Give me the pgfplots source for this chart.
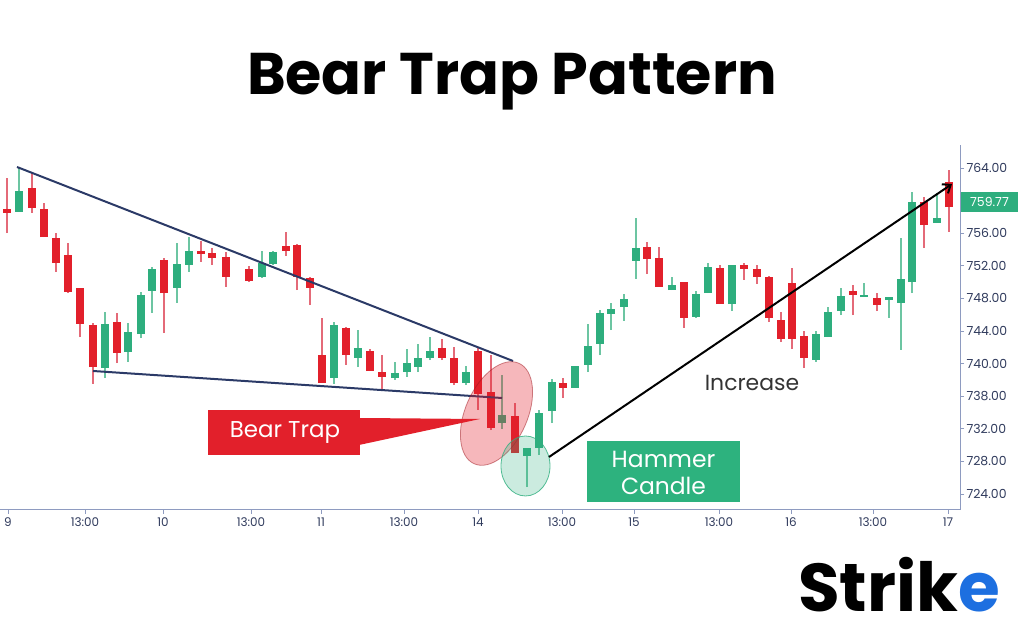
\documentclass[border=0pt]{standalone}
\usepackage{fontspec}
\setmainfont{Poppins}
\usepackage{pgfplots}
\usepackage{pgfplotstable}
\pgfplotsset{compat=1.18}
\usetikzlibrary{arrows.meta}
\definecolor{cred}{HTML}{E2202B}
\definecolor{cgreen}{HTML}{2EAE7E}
\definecolor{credw}{HTML}{E46A78}
\definecolor{cgreenw}{HTML}{6CC5A2}
\definecolor{navy}{HTML}{2B3A67}
\definecolor{axcol}{HTML}{8E9BC0}
\definecolor{tickcol}{HTML}{2F3A5C}
\definecolor{boxgreen}{HTML}{2DB27E}
\definecolor{logoblue}{HTML}{1D6FE0}

\pgfplotstableread{
x o h l c
7 758.97 762.77 756.02 758.48
32 761.55 763.39 758.48 759.09
44 758.97 759.71 755.53 755.53
56 755.41 756.02 751.24 752.34
68 753.33 754.80 748.66 748.79
80 749.28 749.28 743.26 744.86
93 744.74 744.98 737.50 739.58
117 745.10 746.21 740.07 741.30
164 752.71 752.96 743.75 748.66
201 753.82 755.04 752.47 753.45
212 753.57 754.18 752.10 752.96
226 753.08 753.69 749.40 750.63
249 751.61 751.98 750.01 750.13
286 754.43 756.15 753.20 753.82
297 754.55 754.67 749.03 750.63
310 750.50 750.63 747.19 749.28
322 741.05 745.60 737.62 737.62
346 744.37 744.49 739.83 741.05
370 741.55 741.79 739.09 739.09
382 738.97 741.05 736.88 738.36
442 741.91 743.02 740.44 740.69
454 740.69 742.04 737.37 737.62
478 741.55 741.91 734.31 736.27
491 736.52 741.05 731.85 732.10
515 733.57 735.17 729.03 729.03
563 737.62 738.23 735.78 737.01
647 754.31 754.92 750.99 752.83
659 752.96 754.31 749.40 749.40
684 750.01 750.01 744.37 745.60
720 751.73 752.10 747.31 747.31
744 752.10 752.34 750.26 751.61
757 751.61 752.10 749.77 750.63
769 750.63 750.75 745.10 745.60
781 745.35 746.33 742.65 743.02
792 749.89 751.73 741.79 743.02
804 743.39 744.00 739.46 740.69
853 748.91 749.64 745.96 748.42
877 748.05 748.66 746.45 747.19
924 759.83 760.44 754.18 757.01
949 762.28 763.75 756.15 759.21
}\redtab

\pgfplotstableread{
x o h l c
19 758.60 764.12 758.60 761.18
105 739.46 746.33 738.23 744.86
128 741.42 744.98 740.20 743.88
141 743.63 748.79 743.14 748.42
152 748.91 751.85 746.21 751.61
177 749.28 754.80 747.44 752.22
189 752.10 755.53 751.24 753.82
262 750.63 753.82 750.50 752.34
273 752.22 753.82 752.10 753.69
334 738.23 745.10 737.50 744.74
358 740.69 744.12 739.58 741.91
395 738.23 740.20 737.99 738.85
407 738.97 741.79 738.36 740.07
418 739.58 742.40 738.97 740.69
430 740.69 743.26 740.44 741.55
466 737.62 739.71 737.37 738.97
502 732.71 738.60 731.98 733.69
527 728.66 729.64 724.86 729.64
539 729.64 734.31 728.79 733.94
552 734.18 738.11 732.71 737.74
575 737.01 739.71 737.01 739.71
588 739.83 744.86 738.97 742.16
600 742.40 746.58 741.05 746.21
611 746.09 747.44 744.12 746.70
624 746.94 748.54 745.23 747.93
636 752.59 757.87 750.38 754.18
672 749.03 750.63 749.03 749.64
696 745.72 748.91 745.60 748.54
708 748.66 752.34 748.66 751.85
732 747.31 752.10 746.45 752.10
816 740.44 744.00 740.20 743.63
828 743.26 746.94 743.26 746.33
841 746.45 749.28 745.96 748.29
864 748.17 749.89 748.17 748.42
889 747.80 748.17 745.60 748.17
901 747.44 755.41 741.67 750.38
912 750.01 761.06 748.66 759.83
937 757.25 760.93 757.25 757.87
}\greentab

\begin{document}
\begin{tikzpicture}
\path[use as bounding box] (0,0) rectangle (1024bp,640bp);
\begin{axis}[
  at={(0bp,130bp)}, anchor=south west,
  scale only axis, width=960bp, height=365bp,
  xmin=0, xmax=960, ymin=722.04, ymax=766.82,
  axis x line*=bottom, axis y line*=right,
  axis line style={axcol, line width=1bp},
  tick style={axcol, line width=0.8bp},
  tick align=outside, major tick length=4bp,
  xtick={8,85,163,251,321,404,478,562,634,719,791,873,948},
  xticklabels={9,13:00,10,13:00,11,13:00,14,13:00,15,13:00,16,13:00,17},
  ytick={724,728,732,736,740,744,748,752,756,764},
  yticklabels={724.00,728.00,732.00,738.00,740.00,744.00,748.00,752.00,756.00,764.00},
  yticklabel style={font=\fontsize{12.5}{13}\selectfont, color=tickcol, xshift=-1bp},
  xticklabel style={font=\fontsize{12}{13}\selectfont, color=tickcol},
  /pgf/number format/assume math mode=true,
  clip=false,
  candle/.style={draw=none, mark=none, forget plot,
    /pgfplots/error bars/y dir=plus, /pgfplots/error bars/y explicit,
    /pgfplots/error bars/error mark=none},
]
% wicks
\addplot[candle, /pgfplots/error bars/error bar style={draw=credw, line width=1.6bp}]
  table[x=x, y=l, y error plus expr=\thisrow{h}-\thisrow{l}] {\redtab};
\addplot[candle, /pgfplots/error bars/error bar style={draw=cgreenw, line width=1.6bp}]
  table[x=x, y=l, y error plus expr=\thisrow{h}-\thisrow{l}] {\greentab};
% bodies
\addplot[candle, /pgfplots/error bars/error bar style={draw=cred, line width=7.5bp}]
  table[x=x, y expr={min(\thisrow{o},\thisrow{c})}, y error plus expr={max(abs(\thisrow{c}-\thisrow{o}),0.25)}] {\redtab};
\addplot[candle, /pgfplots/error bars/error bar style={draw=cgreen, line width=7.5bp}]
  table[x=x, y expr={min(\thisrow{o},\thisrow{c})}, y error plus expr={max(abs(\thisrow{c}-\thisrow{o}),0.25)}] {\greentab};
\end{axis}

\begin{scope}[x=1bp, y=-1bp, shift={(0bp,640bp)}]
  % title
  \node[font=\fontsize{59}{64}\selectfont\bfseries] at (512,82) {Bear Trap Pattern};
  % trend lines
  \draw[navy, line width=2bp] (17,167) -- (513,361);
  \draw[navy, line width=2bp] (93,371) -- (502,398);
  % ellipses
  \fill[cred, fill opacity=0.32, rotate around={66:(496.5,413.5)}] (496.5,413.5) ellipse [x radius=55, y radius=31];
  \draw[cred!70!black, draw opacity=0.5, line width=0.8bp, rotate around={66:(496.5,413.5)}] (496.5,413.5) ellipse [x radius=55, y radius=31];
  \fill[cgreen, fill opacity=0.25] (525.5,466) ellipse [x radius=24.5, y radius=30];
  \draw[cgreen, draw opacity=0.8, line width=0.8bp] (525.5,466) ellipse [x radius=24.5, y radius=30];
  % Bear trap callout
  \fill[cred] (359,418) -- (480,419) -- (359,445) -- cycle;
  \fill[cred] (208,410) rectangle (360,455);
  \node[white, font=\fontsize{23}{25}\selectfont] at (285,433) {Bear Trap};
  % Hammer candle box
  \fill[boxgreen] (587,441) rectangle (740,502);
  \node[white, font=\fontsize{23.5}{28}\selectfont, align=center] at (663.5,473) {Hammer\\Candle};
  % increase arrow
  \draw[black, line width=2bp, -{Straight Barb[length=7bp, width=11bp]}] (549,457) -- (952,184);
  \node[font=\fontsize{22}{24}\selectfont, text=black!80] at (752,383) {Increase};
  % price label
  \fill[cgreen] (961,192) rectangle (1018,212);
  \node[white, font=\fontsize{12.5}{13}\selectfont] at (989.5,202) {759.77};
  % logo
  \node[font=\fontsize{68}{70}\selectfont\bfseries, anchor=base west, inner sep=0pt] at (798,612) {Strik\textcolor{logoblue}{e}};
\end{scope}
\end{tikzpicture}
\end{document}
